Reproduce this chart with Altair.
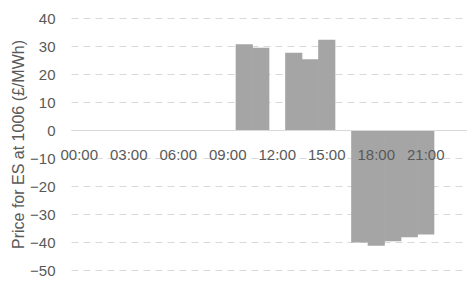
import altair as alt
import pandas as pd

hours = ["00:00", "01:00", "02:00", "03:00", "04:00", "05:00", "06:00", "07:00",
         "08:00", "09:00", "10:00", "11:00", "12:00", "13:00", "14:00", "15:00",
         "16:00", "17:00", "18:00", "19:00", "20:00", "21:00", "22:00", "23:00"]
bar_hours = ["10:00", "11:00", "13:00", "14:00", "15:00",
             "17:00", "18:00", "19:00", "20:00", "21:00"]
bar_values = [30.6, 29.4, 27.6, 25.3, 32.2,
              -40.2, -41.3, -39.7, -38.3, -37.3]
x_tick_labels = ["00:00", "03:00", "06:00", "09:00", "12:00", "15:00", "18:00", "21:00"]
y_tick_values = [-50, -40, -30, -20, -10, 0, 10, 20, 30, 40]

df = pd.DataFrame({"hour": bar_hours, "value": bar_values})

FONT = "Liberation Sans"
TXT = "#595959"
H = 252
zero_offset = -round(H * 50 / 90)

chart = alt.Chart(df).mark_bar(
    color="#a5a5a5", width=alt.RelativeBandSize(1.04)
).encode(
    x=alt.X(
        "hour:N",
        sort=hours,
        scale=alt.Scale(domain=hours, paddingInner=0, paddingOuter=0),
        axis=alt.Axis(
            values=x_tick_labels, orient="bottom", offset=zero_offset, labelAngle=0,
            ticks=False, tickSize=0, domainColor="#d9d9d9", domainWidth=1,
            labelPadding=17, labelFontSize=15, labelColor=TXT, labelFont=FONT,
            title=None, grid=False, zindex=1,
        ),
    ),
    y=alt.Y(
        "value:Q",
        scale=alt.Scale(domain=[-50, 40], nice=False),
        axis=alt.Axis(
            values=y_tick_values, title="Price for ES at 1006 (£/MWh)",
            domain=False, ticks=False, tickSize=0, labelPadding=16,
            grid=True, gridDash=[7, 5], gridColor="#d9d9d9", gridWidth=1,
            labelFontSize=15, labelColor=TXT, labelFont=FONT,
            titleFontSize=16, titleFontWeight="normal", titleColor=TXT,
            titleFont=FONT, titlePadding=3,
        ),
    ),
).properties(
    width=396,
    height=H,
    autosize=alt.AutoSizeParams(type="none"),
    padding={"left": 63, "top": 10, "right": 0, "bottom": 9},
).configure_view(stroke=None)

chart.save("out.html", embed_options={"renderer": "svg", "actions": False})
